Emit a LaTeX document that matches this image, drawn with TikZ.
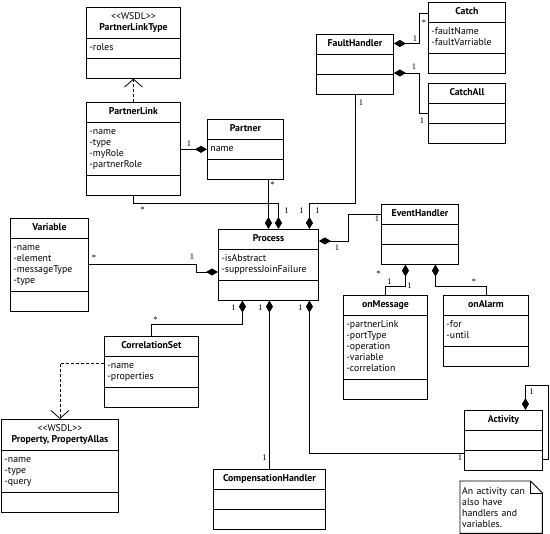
\documentclass[tikz,border=0pt]{standalone}
\usepackage{fontspec}
\setmainfont{PT Sans}
\newfontfamily\multfont{Liberation Serif}
\usetikzlibrary{shapes.multipart,arrows.meta,positioning}

\newcommand{\cls}[1]{\strut\textbf{#1}}
\newcommand{\attrs}[1]{\begin{tabular}{@{}l@{}}#1\end{tabular}}
\newcommand{\stereocls}[2]{\begin{tabular}{@{}c@{}}<{}<#1>{}>\\\textbf{#2}\end{tabular}}

\begin{document}
\begin{tikzpicture}[
    x=1pt, y=-1pt,
    classbox/.style={rectangle split, rectangle split parts=3, draw, line width=0.9pt, anchor=north west,
        inner xsep=3pt, inner ysep=4pt, font=\fontsize{9.8}{11}\selectfont,
        rectangle split part align={center,left,left},
        rectangle split empty part height=7.7pt, rectangle split empty part depth=3.3pt},
    notebox/.style={anchor=north west, text width=78pt, inner xsep=2pt, inner ysep=4pt, minimum height=52pt,
        font=\fontsize{9.8}{11}\selectfont, align=left},
    compose/.style={line width=0.8pt, -{Diamond[length=12pt,width=7pt]}},
    realize/.style={line width=0.8pt, dash pattern=on 3pt off 2pt, -{Straight Barb[length=8pt,width=18pt]}},
    mult/.style={font=\multfont\fontsize{8.5}{9}\selectfont, inner sep=1.5pt},
]
    \useasboundingbox (0,0) rectangle (550,534);

    % classes
    \node[classbox, minimum width=94pt] (PartnerLinkType) at (86,7) {\stereocls{WSDL}{PartnerLinkType} \nodepart{second} \attrs{-roles}};
    \node[classbox, minimum width=94pt] (PartnerLink) at (86,102) {\cls{PartnerLink} \nodepart{second} \attrs{-name\\-type\\-myRole\\-partnerRole}};
    \node[classbox, minimum width=76pt] (Partner) at (207,119) {\cls{Partner} \nodepart{second} \attrs{name}};
    \node[classbox, minimum width=78pt] (Variable) at (10,218) {\cls{Variable} \nodepart{second} \attrs{-name\\-element\\-messageType\\-type}};
    \node[classbox, minimum width=100pt] (Process) at (218,229) {\cls{Process} \nodepart{second} \attrs{-isAbstract\\-suppressJoinFailure}};
    \node[classbox, minimum width=77pt] (FaultHandler) at (316,34) {\cls{FaultHandler}};
    \node[classbox, minimum width=77pt] (Catch) at (428,2) {\cls{Catch} \nodepart{second} \attrs{-faultName\\-faultVarriable}};
    \node[classbox, minimum width=77pt] (CatchAll) at (428,83) {\cls{CatchAll}};
    \node[classbox, minimum width=77pt] (EventHandler) at (381,204) {\cls{EventHandler}};
    \node[classbox, minimum width=84pt] (onMessage) at (343,295) {\cls{onMessage} \nodepart{second} \attrs{-partnerLink\\-portType\\-operation\\-variable\\-correlation}};
    \node[classbox, minimum width=85pt] (onAlarm) at (443,295) {\cls{onAlarm} \nodepart{second} \attrs{-for\\-until}};
    \node[classbox, minimum width=94pt] (CorrelationSet) at (104,336) {\cls{CorrelationSet} \nodepart{second} \attrs{-name\\-properties}};
    \node[classbox, minimum width=117pt] (Property) at (1,419) {\stereocls{WSDL}{Property, PropertyAllas} \nodepart{second} \attrs{-name\\-type\\-query}};
    \node[classbox, minimum width=112pt] (CompensationHandler) at (213,469) {\cls{CompensationHandler}};
    \node[classbox, minimum width=78pt] (Activity) at (464,410) {\cls{Activity}};

    % note
    \node[notebox] (note) at (460,481) {An activity can\\also have\\handlers and\\variables.};
    \draw[line width=0.9pt] (note.north west) -- ([xshift=-12pt]note.north east) -- ([yshift=-12pt]note.north east)
        -- (note.south east) -- (note.south west) -- cycle;
    \draw[line width=0.9pt] ([xshift=-12pt]note.north east) |- ([yshift=-12pt]note.north east);

    % dependencies
    \draw[realize] (PartnerLink) -- (PartnerLinkType);
    \draw[realize] ([yshift=-27pt]CorrelationSet.north west) -| (Property.north);

    % compositions
    \draw[compose] (PartnerLink.east |- Partner.west) node[mult, above right=1pt and 4pt] {1} -- (Partner.west);
    \draw[compose] (Process.north |- Partner.south) node[mult, below right] {*} -- (Process.north);
    \draw[compose] (PartnerLink.south) -- ++(0,8) node[mult, below right=1pt and 5pt] {*}
        -| node[pos=0.5, mult, below right=2pt and 4pt] {1} ([xshift=10pt]Process.north);
    \draw[compose] (FaultHandler.south) node[mult, below right=3pt and 2pt] {1} -- ++(0,109)
        -| node[pos=0.5, mult, below left=2pt and 4pt] {1} node[pos=0.5, mult, below right=2pt and 4pt] {1} ([xshift=41pt]Process.north);
    \draw[compose] ([yshift=-11pt]Catch.north west) -- ++(-9,0) node[mult, below right=5pt and 1pt] {*}
        |- node[pos=0.5, mult, above left] {1} ([yshift=-9.5pt]FaultHandler.north east);
    \draw[compose] (CatchAll.west) node[mult, below left=3pt and 2pt] {1} -- ++(-9,0)
        |- node[pos=0.5, mult, above left=2pt and 1pt] {1} ([yshift=-39pt]FaultHandler.north east);
    \draw[compose] ([yshift=-10pt]EventHandler.north west) node[mult, below left] {1} -- ++(-33,0)
        |- ([yshift=-12pt]Process.north east) node[mult, below right=2pt and 14pt] {1};
    \draw[compose] (Variable.east) node[mult, above right=2pt and 1pt] {*} -- ++(107,0) node[mult, above left=3pt and 0pt] {1}
        |- ([yshift=-43pt]Process.north west);
    \draw[compose] (CorrelationSet.north) -- ++(0,-12) node[mult, above right] {*}
        -| ([xshift=-26pt]Process.south) node[mult, below left=2pt and 5pt] {1};
    \draw[compose] (CompensationHandler.north) node[mult, above left=7pt and 1pt] {1}
        -- (CompensationHandler.north |- Process.south) node[mult, below left=2pt and 5pt] {1};
    \draw[compose] ([yshift=-43pt]Activity.north west) node[mult, below left] {1}
        -| ([xshift=41pt]Process.south) node[mult, below left=2pt and 5pt] {1};
    \draw[compose] (onMessage.north) -- ++(0,-9) node[mult, above right] {1} node[mult, above left=8pt and 3pt] {*}
        -| node[pos=0.5, mult, right] {1} ([xshift=-14.5pt]EventHandler.south);
    \draw[compose] (onAlarm.north) -- ++(0,-9) node[mult, above left=0pt and 8pt] {*}
        -| ([xshift=15.5pt]EventHandler.south);
    \draw[compose] ([yshift=-49pt]Activity.north east) -- ++(5,0) -- ++(0,-74)
        -| node[pos=0.5, mult, below right=2pt and 2pt] {1} ([xshift=22pt]Activity.north);
\end{tikzpicture}
\end{document}
